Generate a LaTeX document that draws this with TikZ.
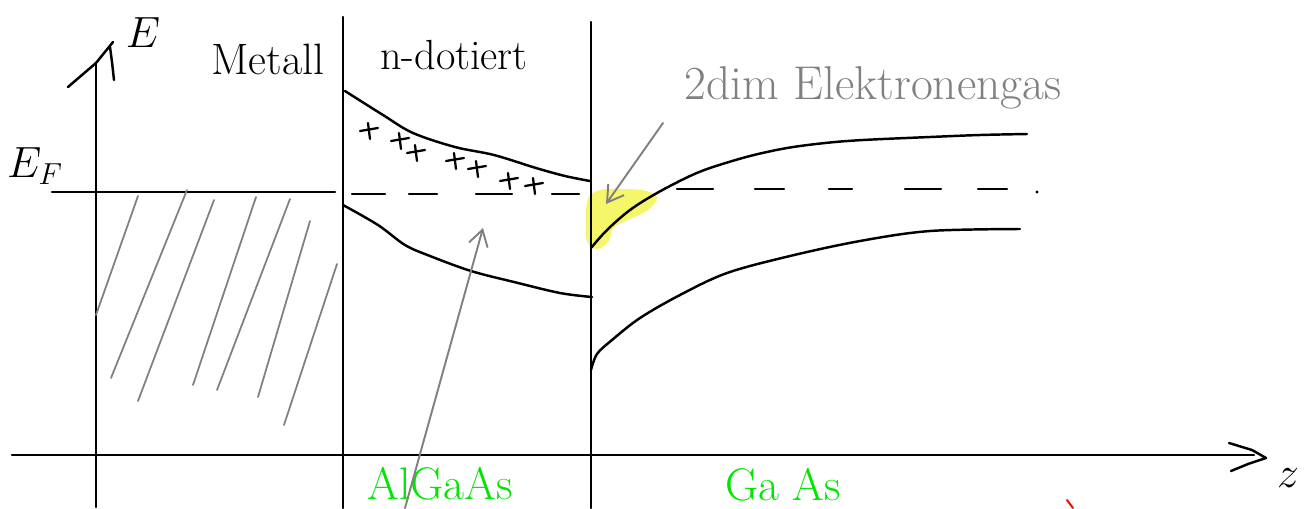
\documentclass[tikz,border=0pt]{standalone}
\usetikzlibrary{arrows.meta}
\definecolor{pengray}{RGB}{128,128,128}
\definecolor{pengreen}{RGB}{0,230,0}
\definecolor{hilite}{RGB}{245,245,80}
\begin{document}
\begin{tikzpicture}[x=0.02cm,y=-0.02cm,
  ink/.style={line width=1.4pt, line cap=round, line join=round},
  grayink/.style={draw=pengray, line width=1.1pt, line cap=round, line join=round},
  hatchline/.style={draw=pengray, line width=1.0pt, line cap=round},
  handtext/.style={inner sep=0pt, font=\fontsize{24}{24}\selectfont},
  greentext/.style={handtext, text=pengreen, font=\fontsize{26}{26}\selectfont},
  graytext/.style={handtext, text=pengray, font=\fontsize{27}{27}\selectfont},
  barb/.style={-{Straight Barb[length=9pt,width=11pt,line width=1.1pt]}},
  band/.style={ink, smooth, tension=0.55}
]
\useasboundingbox (0,0) rectangle (1306,508);

% highlight of the 2D electron gas
\fill[hilite, opacity=0.85] plot[smooth cycle, tension=0.6] coordinates
  {(588,199) (600,190) (625,189) (647,191) (657,198) (648,210) (628,220) (613,228) (609,241) (597,249) (587,241) (586,220)};

% coordinates
\coordinate (Eaxbot) at (96,507);
\coordinate (Eaxtop) at (96,63);
\coordinate (Iface1top) at (343,17);
\coordinate (Iface1bot) at (343,508);
\coordinate (Iface2top) at (591,22);
\coordinate (Iface2bot) at (591,508);
\coordinate (zstart) at (12,455);
\coordinate (zend) at (1254,455);
\coordinate (EFl) at (52,192);
\coordinate (EFr) at (335,192);

% axes and interfaces
\draw[ink] (Eaxbot) -- (Eaxtop);
\draw[ink] (68,87) -- (Eaxtop) -- (113,42);
\draw[ink] (110,47) -- (112,62) -- (114,80);
\draw[ink] (zstart) -- (zend);
\draw[ink] (1229,443) -- (1252,450) -- (1266,458) -- (1248,464) -- (1231,471);
\draw[ink] (Iface1top) -- (Iface1bot);
\draw[ink] (Iface2top) -- (Iface2bot);

% Fermi level in metal
\draw[ink] (EFl) -- (EFr);

% hatching (occupied states in metal)
\foreach \ax/\ay/\bx/\by in {138/196/96/315, 187/190/111/378, 214/200/138/401,
  256/197/193/385, 290/199/217/390, 310/221/258/397, 337/264/284/425}
  \draw[hatchline] (\ax,\ay) -- (\bx,\by);

% n-doped AlGaAs bands
\draw[band] plot coordinates {(345,91) (383,115) (413,133) (455,147) (494,155) (536,168) (565,176) (590,181)};
\draw[band] plot coordinates {(343,205) (378,225) (405,245) (430,256) (471,271) (514,282) (560,293) (592,297)};
\foreach \a/\b in {352/385, 409/437, 476/512, 552/579}
  \draw[ink] (\a,194) -- (\b,194);
% donors
\foreach \px/\py in {369/130, 400/140, 416/152, 455/160, 477/168, 509/180, 534/185}
  \draw[ink, line width=1.3pt] (\px-9,\py+1) -- (\px+9,\py-2) (\px-1,\py-7) -- (\px+1,\py+9);

% GaAs bands
\draw[band] plot coordinates {(591,248) (607,230) (630,210) (657,193) (690,176) (713,167) (750,156) (787,148) (825,143) (863,140) (930,137) (980,135) (1027,134)};
\draw[band] plot coordinates {(591,370) (597,354) (612,340) (640,318) (680,295) (727,273) (790,256) (860,241) (930,231) (1020,229)};
\foreach \a/\b in {677/713, 755/784, 829/852, 905/941, 978/1007}
  \draw[ink] (\a,189) -- (\b,189);
\fill (1037,192) circle[radius=1.6];

% labels
\node[handtext] (Elab) at (143,33) {\fontsize{26}{26}\selectfont $E$};
\node[handtext] (EFlab) at (35,166) {\fontsize{24}{24}\selectfont $E_F$};
\node[handtext] (metall) at (268,59) {\fontsize{25}{25}\selectfont Metall};
\node[handtext] (ndot) at (454,55) {n-dotiert};
\node[graytext] (twodeg) at (873,88) {2dim Elektronengas};
\node[greentext] (algaas) at (440,484) {AlGaAs};
\node[greentext] (gaas) at (783,485) {Ga As};
\node[handtext] (zlab) at (1288,478) {\fontsize{36}{36}\selectfont $z$};

% annotation arrows
\coordinate (twodegfoot) at (663,123);
\coordinate (twodegtip) at (606,204);
\draw[grayink, barb] (twodegfoot) -- (twodegtip);
\coordinate (algfoot) at (405,508);
\coordinate (algtip) at (483,228);
\draw[grayink, barb] (algfoot) -- (algtip);

% small red stroke
\draw[red, line width=1.1pt, line cap=round] (1067,500) -- (1073,508);
\end{tikzpicture}
\end{document}
